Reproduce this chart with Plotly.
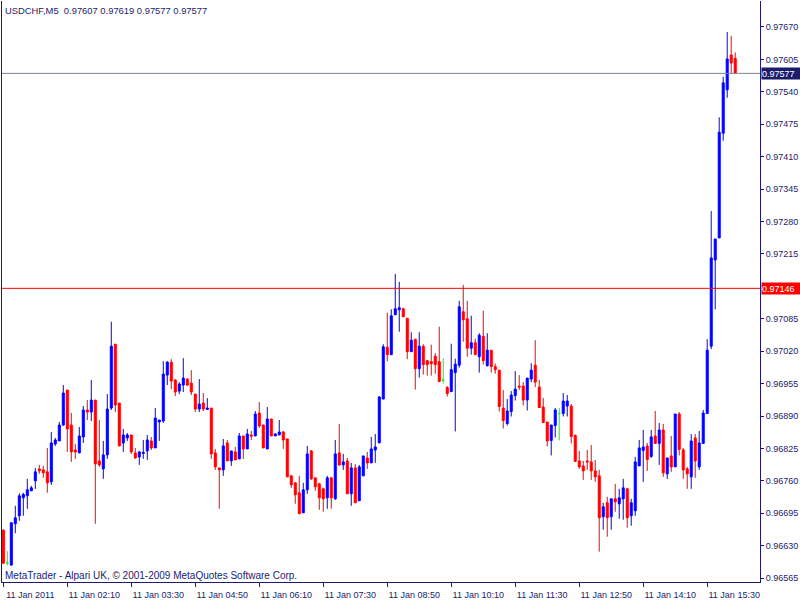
import plotly.graph_objects as go

# ---- data (USDCHF M5, 11 Jan 2011) ----
opens = [0.96661,0.96595,0.96591,0.96674,0.96690,0.96726,0.96730,0.96740,0.96760,0.96784,
         0.96782,0.96778,0.96758,0.96834,0.96840,0.96872,0.96942,0.96872,0.96822,0.96816,
         0.96848,0.96902,0.96898,0.96922,0.96800,0.96784,0.96812,0.96906,0.97034,0.96916,
         0.96836,0.96846,0.96852,0.96816,0.96808,0.96815,0.96820,0.96840,0.96826,0.96878,
         0.96880,0.96972,0.96998,0.96962,0.96940,0.96952,0.96964,0.96956,0.96934,0.96904,
         0.96916,0.96903,0.96906,0.96816,0.96786,0.96782,0.96836,0.96800,0.96818,0.96804,
         0.96850,0.96824,0.96852,0.96850,0.96896,0.96872,0.96824,0.96884,0.96850,0.96852,
         0.96858,0.96844,0.96770,0.96756,0.96736,0.96696,0.96742,0.96820,0.96766,0.96754,
         0.96744,0.96726,0.96766,0.96724,0.96816,0.96792,0.96800,0.96734,0.96786,0.96720,
         0.96770,0.96806,0.96796,0.96822,0.96836,0.96924,0.97028,0.97013,0.97093,0.97103,
         0.97105,0.97086,0.97019,0.97044,0.96985,0.97030,0.97001,0.96999,0.97010,0.96999,
         0.96962,0.96947,0.96939,0.96977,0.96992,0.97099,0.97085,0.97026,0.97037,0.97009,
         0.97050,0.96991,0.97022,0.96989,0.96982,0.96906,0.96875,0.96899,0.96931,0.96950,
         0.96950,0.96922,0.96964,0.96992,0.96948,0.96908,0.96878,0.96841,0.96871,0.96895,
         0.96895,0.96910,0.96910,0.96851,0.96800,0.96790,0.96800,0.96798,0.96780,0.96770,
         0.96688,0.96716,0.96688,0.96724,0.96714,0.96724,0.96744,0.96690,0.96700,0.96790,
         0.96821,0.96830,0.96809,0.96850,0.96835,0.96862,0.96774,0.96810,0.96788,0.96894,
         0.96822,0.96784,0.96768,0.96846,0.96788,0.96835,0.96895,0.97030,0.97203,0.97247,
         0.97457,0.97544,0.97614,0.97607]
highs = [0.96663,0.96619,0.96676,0.96710,0.96735,0.96736,0.96764,0.96750,0.96786,0.96792,
         0.96790,0.96826,0.96858,0.96846,0.96878,0.96952,0.96942,0.96896,0.96834,0.96868,
         0.96910,0.96922,0.96962,0.96922,0.96882,0.96840,0.96934,0.97079,0.97034,0.96916,
         0.96864,0.96856,0.96852,0.96826,0.96820,0.96842,0.96852,0.96848,0.96906,0.96882,
         0.97000,0.97000,0.97004,0.96964,0.96958,0.97006,0.96966,0.96982,0.96934,0.96964,
         0.96936,0.96926,0.96906,0.96824,0.96786,0.96844,0.96842,0.96820,0.96828,0.96856,
         0.96850,0.96864,0.96860,0.96900,0.96918,0.96872,0.96908,0.96884,0.96856,0.96882,
         0.96860,0.96844,0.96772,0.96756,0.96770,0.96756,0.96830,0.96822,0.96766,0.96756,
         0.96746,0.96770,0.96768,0.96842,0.96874,0.96814,0.96806,0.96796,0.96794,0.96792,
         0.96810,0.96818,0.96848,0.96854,0.96930,0.97034,0.97097,0.97104,0.97175,0.97159,
         0.97107,0.97086,0.97058,0.97044,0.97058,0.97034,0.97001,0.97033,0.97016,0.97069,
         0.97006,0.96950,0.97035,0.97005,0.97121,0.97153,0.97121,0.97091,0.97045,0.97056,
         0.97101,0.97056,0.97022,0.96995,0.96982,0.96942,0.96924,0.96940,0.96980,0.96972,
         0.96958,0.96966,0.96996,0.97042,0.96962,0.96926,0.96878,0.96872,0.96906,0.96906,
         0.96936,0.96932,0.96914,0.96853,0.96820,0.96800,0.96822,0.96832,0.96802,0.96782,
         0.96716,0.96728,0.96724,0.96754,0.96744,0.96764,0.96746,0.96724,0.96808,0.96842,
         0.96862,0.96836,0.96862,0.96900,0.96876,0.96874,0.96806,0.96850,0.96894,0.96898,
         0.96826,0.96788,0.96854,0.96854,0.96860,0.96902,0.97044,0.97301,0.97245,0.97489,
         0.97570,0.97660,0.97652,0.97619]
lows = [0.96593,0.96591,0.96591,0.96655,0.96680,0.96690,0.96704,0.96740,0.96744,0.96774,
        0.96766,0.96736,0.96752,0.96830,0.96840,0.96870,0.96818,0.96798,0.96804,0.96816,
        0.96836,0.96882,0.96880,0.96674,0.96788,0.96764,0.96804,0.96902,0.96898,0.96830,
        0.96818,0.96840,0.96814,0.96804,0.96792,0.96804,0.96802,0.96822,0.96826,0.96840,
        0.96876,0.96952,0.96944,0.96930,0.96934,0.96938,0.96950,0.96932,0.96898,0.96898,
        0.96900,0.96903,0.96804,0.96782,0.96704,0.96770,0.96800,0.96790,0.96802,0.96804,
        0.96804,0.96824,0.96842,0.96850,0.96866,0.96826,0.96824,0.96850,0.96850,0.96852,
        0.96824,0.96768,0.96746,0.96714,0.96694,0.96696,0.96734,0.96762,0.96740,0.96702,
        0.96698,0.96704,0.96704,0.96722,0.96790,0.96782,0.96734,0.96710,0.96716,0.96720,
        0.96770,0.96784,0.96796,0.96796,0.96836,0.96924,0.97000,0.97013,0.97093,0.97059,
        0.97089,0.97004,0.97019,0.96943,0.96967,0.96973,0.96971,0.96971,0.96975,0.96959,
        0.96955,0.96929,0.96939,0.96859,0.96987,0.97039,0.97009,0.97013,0.97013,0.96977,
        0.96993,0.96989,0.96977,0.96975,0.96899,0.96865,0.96871,0.96889,0.96921,0.96942,
        0.96911,0.96901,0.96958,0.96948,0.96907,0.96877,0.96829,0.96811,0.96847,0.96841,
        0.96889,0.96889,0.96835,0.96799,0.96784,0.96762,0.96782,0.96762,0.96758,0.96618,
        0.96662,0.96648,0.96662,0.96698,0.96684,0.96682,0.96666,0.96670,0.96690,0.96790,
        0.96758,0.96780,0.96806,0.96835,0.96792,0.96768,0.96764,0.96778,0.96788,0.96811,
        0.96764,0.96744,0.96744,0.96766,0.96782,0.96835,0.96895,0.97024,0.97104,0.97247,
        0.97442,0.97528,0.97578,0.97577]
closes = [0.96595,0.96595,0.96676,0.96686,0.96730,0.96733,0.96742,0.96746,0.96778,0.96780,
          0.96776,0.96756,0.96836,0.96842,0.96872,0.96936,0.96864,0.96818,0.96818,0.96850,
          0.96902,0.96898,0.96922,0.96794,0.96792,0.96812,0.96904,0.97030,0.96912,0.96830,
          0.96852,0.96852,0.96818,0.96806,0.96818,0.96817,0.96842,0.96826,0.96886,0.96882,
          0.96974,0.96998,0.96960,0.96938,0.96954,0.96966,0.96952,0.96938,0.96904,0.96914,
          0.96904,0.96906,0.96814,0.96788,0.96782,0.96830,0.96800,0.96820,0.96802,0.96850,
          0.96824,0.96854,0.96850,0.96894,0.96870,0.96826,0.96884,0.96850,0.96854,0.96858,
          0.96842,0.96768,0.96752,0.96732,0.96694,0.96742,0.96814,0.96764,0.96748,0.96726,
          0.96724,0.96766,0.96726,0.96814,0.96792,0.96798,0.96734,0.96786,0.96716,0.96788,
          0.96810,0.96796,0.96824,0.96828,0.96928,0.97029,0.97013,0.97091,0.97105,0.97107,
          0.97089,0.97019,0.97042,0.96985,0.97030,0.96993,0.96993,0.96995,0.96993,0.96959,
          0.96962,0.96935,0.96983,0.96994,0.97109,0.97083,0.97026,0.97037,0.97013,0.97052,
          0.97001,0.97022,0.96989,0.96983,0.96909,0.96881,0.96900,0.96932,0.96944,0.96948,
          0.96922,0.96966,0.96982,0.96958,0.96907,0.96877,0.96840,0.96872,0.96902,0.96895,
          0.96920,0.96920,0.96849,0.96799,0.96788,0.96780,0.96798,0.96780,0.96768,0.96686,
          0.96708,0.96686,0.96724,0.96718,0.96726,0.96746,0.96686,0.96716,0.96798,0.96826,
          0.96828,0.96803,0.96848,0.96835,0.96862,0.96776,0.96806,0.96788,0.96894,0.96823,
          0.96782,0.96774,0.96840,0.96800,0.96836,0.96896,0.97022,0.97207,0.97245,0.97459,
          0.97558,0.97606,0.97598,0.97577]

tick_idx = [0, 16, 32, 48, 64, 80, 96, 112, 128, 144, 160, 176]
tick_text = ["11 Jan 2011", "11 Jan 02:10", "11 Jan 03:30", "11 Jan 04:50",
             "11 Jan 06:10", "11 Jan 07:30", "11 Jan 08:50", "11 Jan 10:10",
             "11 Jan 11:30", "11 Jan 12:50", "11 Jan 14:10", "11 Jan 15:30"]
price_ticks = [0.96565, 0.96630, 0.96695, 0.96760, 0.96825, 0.96890, 0.96955, 0.97020,
               0.97085, 0.97215, 0.97280, 0.97345, 0.97410, 0.97475, 0.97540, 0.97605, 0.97670]
bid_level = 0.97577
line_level = 0.97146
header = "USDCHF,M5\u00a0\u00a00.97607 0.97619 0.97577 0.97577"
footer = "MetaTrader - Alpari UK, \u00a9 2001-2009 MetaQuotes Software Corp."

NAVY = "#1c1c6b"
FONT = "Liberation Sans"

fig = go.Figure()

groups = {
    "bull": ([i for i in range(len(opens)) if closes[i] > opens[i]], "#0000ff"),
    "bear": ([i for i in range(len(opens)) if closes[i] < opens[i]], "#ff0000"),
    "doji": ([i for i in range(len(opens)) if closes[i] == opens[i]], "#00ff00"),
}
for name, (idx, col) in groups.items():
    fig.add_trace(go.Candlestick(
        x=idx,
        open=[opens[i] for i in idx], high=[highs[i] for i in idx],
        low=[lows[i] for i in idx], close=[closes[i] for i in idx],
        increasing=dict(line=dict(color=col, width=1), fillcolor=col),
        decreasing=dict(line=dict(color=col, width=1), fillcolor=col),
        whiskerwidth=0, showlegend=False, hoverinfo="skip", name=name))

fig.add_hline(y=bid_level, line=dict(color="#7a8590", width=1))
fig.add_hline(y=line_level, line=dict(color="#ff0000", width=1))

# price label boxes on the axis
for lvl, bg in [(bid_level, NAVY), (line_level, "#ff0000")]:
    fig.add_annotation(x=1.0, xref="paper", y=lvl, yref="y", xanchor="left", yanchor="middle",
                       xshift=1, text=f"{lvl:.5f}", showarrow=False, bgcolor=bg,
                       font=dict(family=FONT, size=9, color="white"),
                       width=38, height=11, borderpad=0, align="left")

fig.add_annotation(x=1 / 758, xref="paper", y=(582 - 11) / 581, yref="paper",
                   xanchor="left", yanchor="middle", text=header, showarrow=False,
                   font=dict(family=FONT, size=9.4, color=NAVY))
fig.add_annotation(x=1 / 758, xref="paper", y=(582 - 575) / 581, yref="paper",
                   xanchor="left", yanchor="middle", text=footer, showarrow=False,
                   font=dict(family=FONT, size=10, color=NAVY))

fig.update_layout(
    width=800, height=600, margin=dict(l=2, r=40, t=1, b=18, autoexpand=False),
    paper_bgcolor="white", plot_bgcolor="white",
    boxgap=0.5, boxgroupgap=0, boxmode="overlay",
    font=dict(family=FONT, size=9, color=NAVY),
    xaxis=dict(range=[-0.325, 189.2], tickmode="array", tickvals=tick_idx, ticktext=tick_text,
               ticks="outside", ticklen=4, tickcolor=NAVY, showline=True, linecolor=NAVY,
               linewidth=1, mirror=False, showgrid=False, zeroline=False,
               rangeslider=dict(visible=False), ticklabelshift=27, ticklabelstandoff=0,
               tickfont=dict(family=FONT, size=9, color=NAVY)),
    yaxis=dict(side="right", range=[0.965572, 0.977221], tickmode="array",
               tickvals=price_ticks, ticktext=[f"{v:.5f}" for v in price_ticks],
               ticks="outside", ticklen=3, tickcolor=NAVY, showline=True, linecolor=NAVY,
               linewidth=1, mirror=True, showgrid=False, zeroline=False,
               tickfont=dict(family=FONT, size=9, color=NAVY)),
)

fig.write_html("out.html", config={"displayModeBar": False},
               post_script="document.body.style.margin='0';document.body.style.overflow='hidden';")
